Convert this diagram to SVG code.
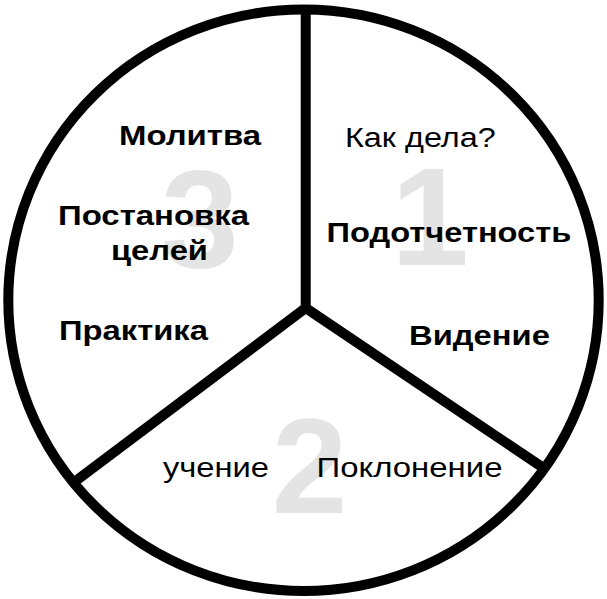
<svg xmlns="http://www.w3.org/2000/svg" width="607" height="599" viewBox="0 0 607 599">
  <style>
    .ring { fill: none; stroke: #000; stroke-width: 10; }
    .div { fill: none; stroke: #000; stroke-width: 10; stroke-linejoin: miter; stroke-linecap: butt; }
    .num { font-family: "Liberation Sans", Arial, sans-serif; font-weight: bold; font-size: 140px; fill: #e4e4e4; text-anchor: middle; }
    .b { font-family: "Liberation Sans", Arial, sans-serif; font-weight: bold; font-size: 28px; fill: #000; }
    .r { font-family: "Liberation Sans", Arial, sans-serif; font-size: 28px; fill: #000; }
  </style>
  <rect width="607" height="599" fill="#fff"/>
  <g id="sector-1">
    <text class="num" x="430" y="265">1</text>
    <text class="r" transform="translate(345 147) scale(1.16 1)" textLength="130" lengthAdjust="spacingAndGlyphs" style="font-size:27px">Как дела?</text>
    <text class="b" transform="translate(326.5 242) scale(1.16 1)" textLength="211" lengthAdjust="spacingAndGlyphs">Подотчетность</text>
    <text class="b" transform="translate(409 345) scale(1.16 1)" textLength="121.5" lengthAdjust="spacingAndGlyphs">Видение</text>
  </g>
  <g id="sector-2">
    <text class="num" x="309.5" y="513" style="font-size:136px">2</text>
    <text class="r" transform="translate(163 477) scale(1.16 1)" textLength="91.4" lengthAdjust="spacingAndGlyphs">учение</text>
    <text class="r" transform="translate(316.5 477) scale(1.16 1)" textLength="160.3" lengthAdjust="spacingAndGlyphs">Поклонение</text>
  </g>
  <g id="sector-3">
    <text class="num" x="200" y="266.5">3</text>
    <text class="b" transform="translate(119 145) scale(1.16 1)" textLength="122.4" lengthAdjust="spacingAndGlyphs">Молитва</text>
    <text class="b" transform="translate(58 225) scale(1.16 1)" textLength="164.7" lengthAdjust="spacingAndGlyphs">Постановка</text>
    <text class="b" transform="translate(111 260) scale(1.16 1)" textLength="83.6" lengthAdjust="spacingAndGlyphs">целей</text>
    <text class="b" transform="translate(59 340) scale(1.16 1)" textLength="128.4" lengthAdjust="spacingAndGlyphs">Практика</text>
  </g>
  <g id="connectors">
    <line class="div" x1="305.7" y1="8" x2="305.7" y2="306"/>
    <polyline class="div" points="73,483 305.7,308 545,469"/>
  </g>
  <g id="circle">
    <ellipse class="ring" cx="303.5" cy="300.25" rx="295.2" ry="290.75"/>
  </g>
</svg>
